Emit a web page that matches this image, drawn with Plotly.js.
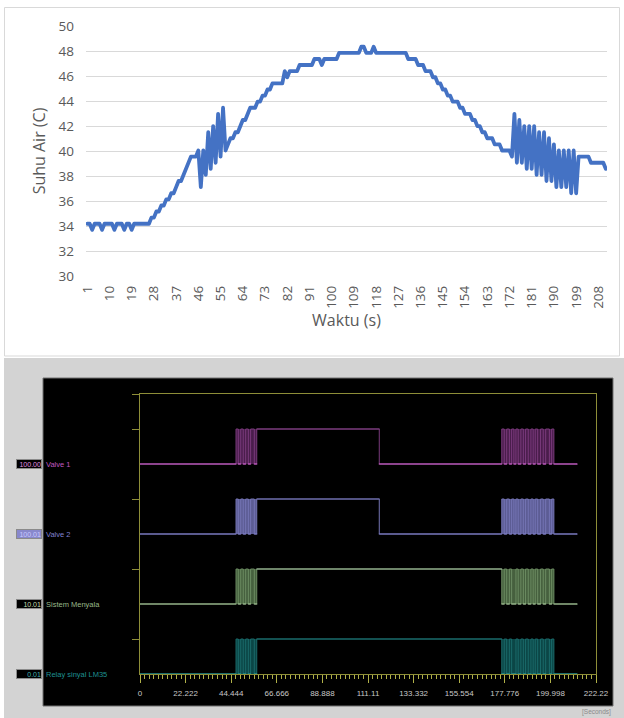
<!DOCTYPE html>
<html><head><meta charset="utf-8">
<script src="https://cdn.plot.ly/plotly-3.0.1.min.js"></script>
<style>
html,body{margin:0;padding:0;background:#fff}
#chart{width:624px;height:718px}
.js-line{stroke-linejoin:round;stroke-linecap:round}
</style>
</head><body><div id="chart"></div>
<script>
// ---------- top chart data (temperature vs time, categories 1..211) ----------
const suhuAir = [
 34.18,34.18,33.69,34.18,34.18,34.18,33.69,34.18,34.18,34.18,
 34.18,33.69,34.18,34.18,34.18,33.69,34.18,34.18,33.69,34.18,
 34.18,34.18,34.18,34.18,34.18,34.18,34.67,34.67,35.16,35.16,
 35.64,35.64,36.13,36.13,36.62,36.62,37.11,37.60,37.60,38.09,
 38.57,39.06,39.55,39.55,39.55,40.04,37.11,40.04,38.09,41.50,
 38.57,41.99,39.06,42.97,39.55,43.46,40.04,40.53,41.02,41.02,
 41.50,41.50,41.99,42.48,42.48,42.97,43.46,43.46,43.46,43.95,
 43.95,44.43,44.43,44.92,44.92,45.41,45.41,45.41,45.41,45.41,
 46.39,45.90,46.39,46.39,46.39,46.39,46.88,46.88,46.88,46.88,
 46.88,46.88,47.36,47.36,47.36,46.88,47.36,47.36,47.36,47.36,
 47.36,47.36,47.85,47.85,47.85,47.85,47.85,47.85,47.85,47.85,
 47.85,48.34,48.34,47.85,47.85,47.85,48.34,47.85,47.85,47.85,
 47.85,47.85,47.85,47.85,47.85,47.85,47.85,47.85,47.85,47.85,
 47.36,47.36,47.36,47.36,46.88,46.88,46.88,46.39,46.39,46.39,
 45.90,45.90,45.41,45.41,44.92,44.92,44.43,44.43,43.95,43.95,
 43.95,43.46,43.46,42.97,42.97,42.97,42.48,42.48,41.99,41.99,
 41.50,41.50,41.02,41.02,41.02,40.53,40.53,40.53,40.04,40.04,
 40.04,40.04,39.55,42.97,39.06,42.48,39.06,41.99,38.57,41.99,
 38.57,41.99,38.09,41.50,38.09,41.50,37.60,41.02,37.60,40.53,
 37.11,40.04,37.11,40.04,37.11,40.04,36.62,40.04,36.62,39.55,
 39.55,39.55,39.55,39.55,39.06,39.06,39.06,39.06,39.06,39.06,
 38.57
];
const waktu = suhuAir.map((_, i) => i + 1);
const xTickVals = [1,10,19,28,37,46,55,64,73,82,91,100,109,118,127,136,145,154,163,172,181,190,199,208];
const xTickLabels = xTickVals.map(String);

// ---------- bottom chart data (logic analyser, seconds) ----------
const valveEdges = [46.8,47.9,49.1,50.3,51.5,52.8,53.9,55.7,56.9,116.6,
  176.3,177.5,178.7,180.0,181.1,182.2,183.2,184.3,185.6,186.8,187.9,189.2,190.5,191.6,192.6,193.8,195.2,196.5,197.7,199.5,200.6,201.7];
const systemEdges = [46.8,47.9,49.1,50.3,51.5,52.8,53.9,55.7,56.9,
  176.3,177.5,178.7,180.0,181.1,183.2,184.3,185.6,186.8,187.9,189.2,190.5,191.6,192.6,193.8,195.2,196.5,197.7,199.5,200.6,201.7];
const burstIntervals = [[46.8,56.9],[176.3,201.7]];
const tEnd = 213.0;
const signalNames = ['Valve 1','Valve 2','Sistem Menyala','Relay sinyal LM35'];
const signalValues = ['100.00','100.01','10.01','0.01'];
const signalEdges = [valveEdges, valveEdges, systemEdges, systemEdges];
const axisTickVals = [0,22.222,44.444,66.666,88.888,111.11,133.332,155.554,177.776,199.998,222.22];
const axisTickText = ['0','22.222','44.444','66.666','88.888','111.11','133.332','155.554','177.776','199.998','222.22'];

// ---------- styles ----------
const levels = [3,2,1,0];
const lowColors  = ['#dc6adc','#7c7cc4','#a9c79d','#2aa8a8'];
const highColors = ['#7e3e80','#6c6cac','#a6c4a4','#1b6e6e'];
const edgeColors = ['#7a3a7c','#7474b4','#6c8c62','#1a6a6a'];
const fillColors = ['#4a1d4c','#5c5c94','#46603e','#0b4646'];
const boxFill    = ['#000000','#8888cc','#000000','#000000'];
const boxText    = ['#e090e0','#c8c8ff','#c0dcb0','#40b0b0'];
const labelColor = ['#c058c0','#8080d0','#98b888','#1e9090'];
const yellow = '#8e8e38';
const tickYellow = '#b0b048';
const W = 624, H = 718;
const px = x => x / W, py = y => 1 - y / H;

const traces = [];
traces.push({x: waktu, y: suhuAir, type:'scatter', mode:'lines', xaxis:'x', yaxis:'y',
  line:{color:'#4472C4', width:3.8}, hoverinfo:'skip'});

signalEdges.forEach((edges, k) => {
  const base = levels[k];
  burstIntervals.forEach(([a,b]) => {
    traces.push({x:[a,b,b,a,a], y:[base,base,base+0.5,base+0.5,base], type:'scatter', mode:'lines',
      fill:'toself', fillcolor:fillColors[k], line:{width:0}, xaxis:'x2', yaxis:'y2', hoverinfo:'skip', cliponaxis:false});
  });
  const xs = [0], ys = [base];
  let s = 0;
  edges.forEach(e => { s = 1 - s; xs.push(e); ys.push(base + 0.5 * s); });
  xs.push(tEnd); ys.push(base + 0.5 * s);
  traces.push({x:xs, y:ys, type:'scatter', mode:'lines', line:{shape:'hv', color:edgeColors[k], width:1},
    xaxis:'x2', yaxis:'y2', hoverinfo:'skip', cliponaxis:false});
  const lx = [], ly = [], hx = [], hy = [];
  for (let i = 0; i < xs.length - 1; i++) {
    if (ys[i] === base) { lx.push(xs[i], xs[i+1], null); ly.push(base, base, null); }
    else if (xs[i+1] - xs[i] > 5) { hx.push(xs[i], xs[i+1], null); hy.push(ys[i], ys[i], null); }
  }
  traces.push({x:hx, y:hy, type:'scatter', mode:'lines', line:{color:highColors[k], width:1},
    xaxis:'x2', yaxis:'y2', hoverinfo:'skip', cliponaxis:false, connectgaps:false});
  traces.push({x:lx, y:ly, type:'scatter', mode:'lines', line:{color:lowColors[k], width:1.2},
    xaxis:'x2', yaxis:'y2', hoverinfo:'skip', cliponaxis:false, connectgaps:false});
  traces.push({x:[-1.3], y:[base], type:'scatter', mode:'markers',
    marker:{symbol:'triangle-right', size:6, color:lowColors[k]}, xaxis:'x2', yaxis:'y2', hoverinfo:'skip', cliponaxis:false});
});

const annotations = [];
signalNames.forEach((name, k) => {
  annotations.push({xref:'paper', yref:'y2', x:px(42), y:levels[k], xanchor:'right', yanchor:'middle',
    text:signalValues[k], showarrow:false, font:{family:'Liberation Sans, sans-serif', size:7, color:boxText[k]},
    bgcolor:boxFill[k], bordercolor:'#8a8a8a', borderwidth:1, borderpad:0, width:24, height:8, align:'right'});
  annotations.push({xref:'paper', yref:'y2', x:px(44), y:levels[k], xanchor:'left', yanchor:'middle',
    text:name, showarrow:false, font:{family:'Liberation Sans, sans-serif', size:7.5, color:labelColor[k]}});
});
annotations.push({xref:'paper', yref:'paper', x:px(613), y:py(712), xanchor:'right', yanchor:'middle',
  text:'[Seconds]', showarrow:false, font:{family:'Liberation Sans, sans-serif', size:6.5, color:'#8a8a8a'}});

const shapes = [
  {type:'rect', xref:'paper', yref:'paper', x0:px(4.5), x1:px(619.5), y0:py(356), y1:py(7.5),
   fillcolor:'#ffffff', line:{color:'#d9d9d9', width:1}, layer:'below'},
  {type:'rect', xref:'paper', yref:'paper', x0:px(4), x1:px(624), y0:py(718), y1:py(358),
   fillcolor:'#d3d3d3', line:{width:0}, layer:'below'},
  {type:'rect', xref:'paper', yref:'paper', x0:px(43), x1:px(613), y0:py(706), y1:py(378),
   fillcolor:'#000000', line:{color:'#707070', width:1}, layer:'below'}
];

const tickFont = {family:'Open Sans, sans-serif', size:13.5, color:'#595959'};
const layout = {
  width:W, height:H, margin:{l:0,r:0,t:0,b:0}, paper_bgcolor:'#ffffff', plot_bgcolor:'rgba(0,0,0,0)',
  showlegend:false, font:{family:'Open Sans, sans-serif'},
  xaxis:{domain:[px(86), px(607)], range:[0.5,211.5], anchor:'y', tickmode:'array', tickvals:xTickVals, ticktext:xTickLabels,
    tickangle:-90, showgrid:false, zeroline:false, showline:false, ticks:'', tickfont:tickFont, ticklabelstandoff:6,
    title:{text:'Waktu (s)', font:{family:'Open Sans, sans-serif', size:16, color:'#595959'}, standoff:4}},
  yaxis:{domain:[py(276), py(26)], range:[30,50], anchor:'x', tick0:30, dtick:2, gridcolor:'#d9d9d9', gridwidth:1,
    zeroline:false, showline:false, ticks:'', tickfont:tickFont, ticklabelstandoff:11,
    title:{text:'Suhu Air (C)', font:{family:'Open Sans, sans-serif', size:16, color:'#595959'}, standoff:8}},
  xaxis2:{domain:[px(140), px(596)], range:[0,222.22], anchor:'y2', tickmode:'array', tickvals:axisTickVals, ticktext:axisTickText,
    ticks:'outside', ticklen:8, tickcolor:tickYellow, tickwidth:1, showgrid:false, zeroline:false,
    showline:true, linecolor:yellow, linewidth:1, mirror:true,
    tickfont:{family:'Liberation Sans, sans-serif', size:8, color:'#c8c8c8'}, ticklabelstandoff:3,
    minor:{tick0:0, dtick:2.2222, ticks:'outside', ticklen:4, tickcolor:tickYellow, tickwidth:1, showgrid:false}},
  yaxis2:{domain:[py(674), py(394)], range:[0,4], anchor:'x2', tickmode:'array', tickvals:[0.5,1.5,2.5,3.5,4],
    showticklabels:false, ticks:'outside', ticklen:7, tickcolor:yellow, showgrid:false, zeroline:false,
    showline:true, linecolor:yellow, linewidth:1, mirror:true},
  shapes: shapes,
  annotations: annotations
};

Plotly.newPlot('chart', traces, layout, {staticPlot:true, displayModeBar:false});
</script>
</body></html>
